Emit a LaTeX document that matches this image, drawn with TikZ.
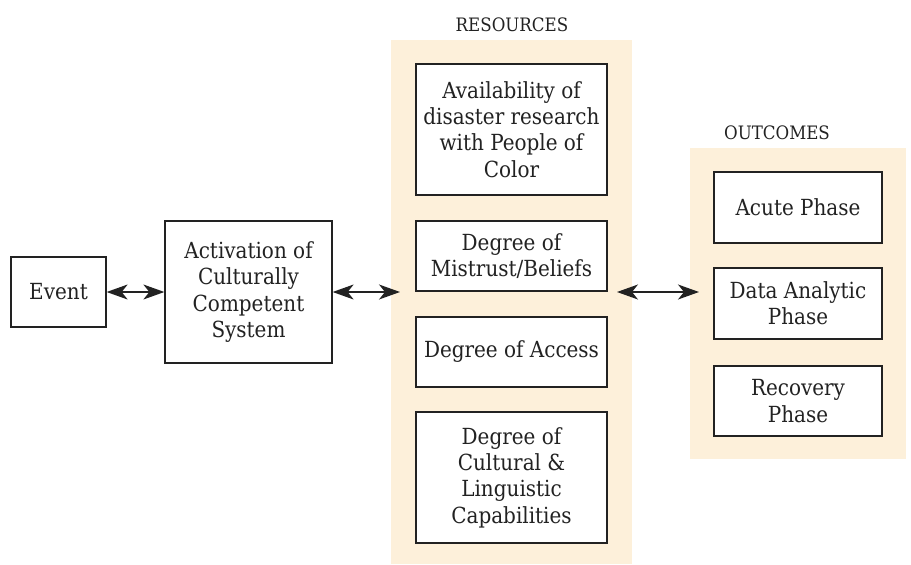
\documentclass[tikz,border=0pt]{standalone}
\usepackage{fontspec}
\setmainfont{DejaVu Serif Condensed}
\usetikzlibrary{arrows.meta}
\definecolor{panelfill}{HTML}{FDF0DA}
\definecolor{ink}{HTML}{222222}
\begin{document}
\begin{tikzpicture}[x=1pt,y=-1pt,
  box/.style={draw=ink, line width=1.3pt, fill=white, text=ink, align=center,
    inner sep=0pt, font=\fontsize{22.2}{26.3}\selectfont},
  panel/.style={fill=panelfill, draw=none},
  heading/.style={text=ink, font=\fontsize{18.5}{21}\selectfont},
  link/.style={draw=ink, line width=1.3pt,
    arrows={Stealth[length=21pt,width=15pt,inset=6pt]-Stealth[length=21pt,width=15pt,inset=6pt]}}]
\useasboundingbox (0,0) rectangle (911,565);

% background panels
\fill[panel] (391,40) rectangle (632,564);
\fill[panel] (690,148) rectangle (906,459);
\node[heading] (reshead) at (512,25) {RESOURCES};
\node[heading] (outhead) at (777,133) {OUTCOMES};

% left chain
\node[box, minimum width=95pt, minimum height=70pt] (event) at (58.5,292) {Event};
\node[box, minimum width=167pt, minimum height=142pt] (act) at (248.5,292)
  {Activation of\\Culturally\\Competent\\System};

% resources
\node[box, minimum width=191pt, minimum height=131pt] (r1) at (511.5,129.5)
  {Availability of\\disaster research\\with People of\\Color};
\node[box, minimum width=191pt, minimum height=70pt] (r2) at (511.5,256)
  {Degree of\\Mistrust/Beliefs};
\node[box, minimum width=191pt, minimum height=70pt] (r3) at (511.5,352)
  {Degree of Access};
\node[box, minimum width=191pt, minimum height=131pt] (r4) at (511.5,477.5)
  {Degree of\\Cultural \&\\Linguistic\\Capabilities};

% outcomes
\node[box, minimum width=168pt, minimum height=71pt] (o1) at (798,207.5) {Acute Phase};
\node[box, minimum width=168pt, minimum height=71pt] (o2) at (798,303.5) {Data Analytic\\Phase};
\node[box, minimum width=168pt, minimum height=70pt] (o3) at (798,401) {Recovery\\Phase};

% connector ends inside the panels
\coordinate (resin) at (400,292);
\coordinate (resout) at (617,292);
\coordinate (outin) at (699,292);

\draw[link] (event.east) -- (act.west);
\draw[link] (act.east) -- (resin);
\draw[link] (resout) -- (outin);
\end{tikzpicture}
\end{document}
